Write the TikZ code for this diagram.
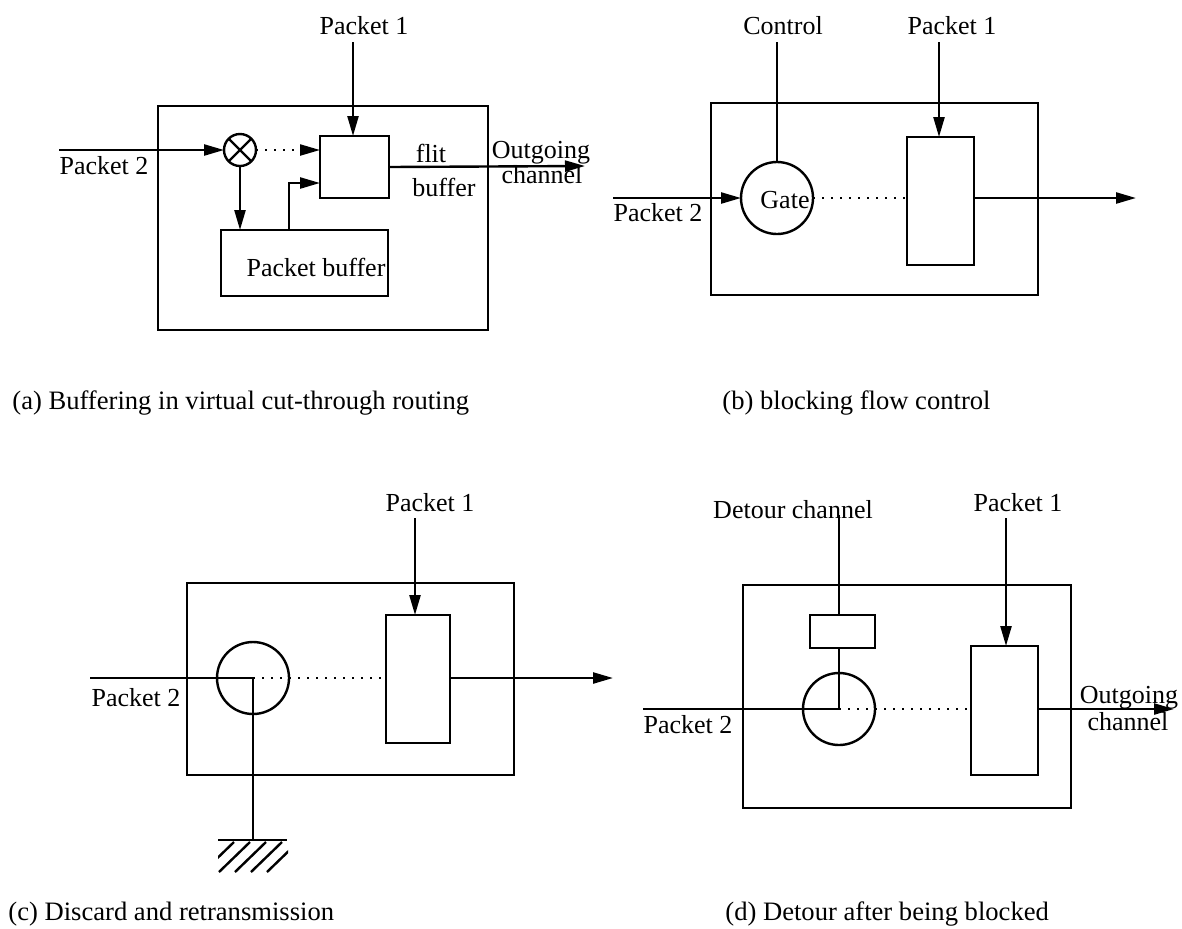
\documentclass[tikz,border=0pt]{standalone}
\usepackage{fontspec}
\setmainfont{Liberation Serif}
\usetikzlibrary{arrows.meta}
\tikzset{>={Triangle[length=10pt,width=5.5pt]},
 every node/.style={font=\fontsize{13}{15}\selectfont},
 frame/.style={draw,line width=1.3pt,inner sep=0pt,outer sep=0pt},
 buf/.style={draw,line width=1.2pt,inner sep=0pt,outer sep=0pt},
 ring/.style={circle,draw,line width=1.2pt,inner sep=0pt,outer sep=0pt,minimum size=36pt},
 arr/.style={->,line width=1.2pt},
 wire/.style={line width=1.2pt},
 thinwire/.style={line width=0.9pt},
 dots/.style={line width=1.1pt,dash pattern=on 1.2pt off 3.3pt},
 lbl/.style={inner sep=0pt},
 captxt/.style={inner sep=0pt,anchor=base west,font=\fontsize{13.3}{15}\selectfont},
}

\begin{document}
\begin{tikzpicture}[x=0.5pt,y=-0.5pt]
 \useasboundingbox (0,0) rectangle (1182,928);
 % (a) virtual cut-through
 \node[frame,minimum width=165pt,minimum height=112pt] (boxA) at (323,218) {};
 \node[buf,minimum width=34.5pt,minimum height=31pt] (flitA) at (354.5,167) {};
 \node[buf,minimum width=83.5pt,minimum height=33pt] (pbufA) at (304.5,263) {};
 \node[circle,draw,line width=1.2pt,inner sep=0pt,outer sep=0pt,minimum size=16pt] (mulA) at (240,150) {};
 \draw[wire] (mulA.north west) -- (mulA.south east) (mulA.north east) -- (mulA.south west);
 \node[lbl] (p1lblA) at (364,26) {Packet 1};
 \node[lbl] (p2lblA) at (104,166) {Packet 2};
 \node[lbl] (pbtxtA) at (316,267) {Packet buffer};
 \node[lbl] (flitlblA) at (431,153) {flit};
 \node[lbl] (buflblA) at (444,187) {buffer};
 \node[lbl] (outlblA) at (541,153) {Outgoing};
 \node[lbl] (chlblA) at (542,175) {channel};
 \coordinate (p1A) at (353,42);
 \coordinate (p2A) at (59,150);
 \coordinate (tapA) at (289,230);
 \coordinate (inA) at (320,183);
 \coordinate (outA) at (585,166);
 \draw[arr] (p1A) -- (p1A |- flitA.north);
 \draw[arr] (p2A) -- (mulA.west);
 \draw[arr,dots] (mulA.east) -- (flitA.west |- mulA);
 \draw[arr] (mulA.south) -- (mulA |- pbufA.north);
 \draw[arr] (tapA) |- (inA);
 \draw[arr] (flitA.east) -- (outA);
 \node[captxt] (capA) at (12,409) {(a) Buffering in virtual cut-through routing};

 % (b) blocking flow control
 \node[frame,minimum width=163.5pt,minimum height=96pt] (boxB) at (874.5,199) {};
 \node[ring] (gateB) at (777,198) {};
 \node[lbl] (gatetxtB) at (785,200) {Gate};
 \node[buf,minimum width=33.5pt,minimum height=64pt] (rectB) at (940.5,201) {};
 \node[lbl] (ctllblB) at (783,26) {Control};
 \node[lbl] (p1lblB) at (952,26) {Packet 1};
 \node[lbl] (p2lblB) at (658,213) {Packet 2};
 \coordinate (ctlB) at (777,42);
 \coordinate (p1B) at (939,42);
 \coordinate (p2B) at (613,198);
 \coordinate (outB) at (1136,198);
 \draw[thinwire] (ctlB) -- (gateB.north);
 \draw[arr] (p1B) -- (p1B |- rectB.north);
 \draw[arr] (p2B) -- (gateB.west);
 \draw[dots] (gateB.east) -- (rectB.west |- gateB);
 \draw[arr] (rectB.east |- gateB) -- (outB);
 \node[captxt] (capB) at (722,409) {(b) blocking flow control};

 % (c) discard and retransmission
 \node[frame,minimum width=163.5pt,minimum height=96pt] (boxC) at (350.5,679) {};
 \node[ring] (circC) at (253,678) {};
 \node[buf,minimum width=32pt,minimum height=64pt] (rectC) at (418,679) {};
 \node[lbl] (p1lblC) at (430,503) {Packet 1};
 \node[lbl] (p2lblC) at (136,698) {Packet 2};
 \coordinate (p1C) at (415,518);
 \coordinate (p2C) at (90,678);
 \coordinate (outC) at (613,678);
 \coordinate (gndC) at (253,840);
 \coordinate (gndL) at (218,840);
 \coordinate (gndR) at (287,840);
 \draw[arr] (p1C) -- (p1C |- rectC.north);
 \draw[wire] (p2C) -- (circC.center) -- (gndC);
 \draw[dots] (circC.center) -- (rectC.west |- circC);
 \draw[arr] (rectC.east |- circC) -- (outC);
 \draw[wire] (gndL) -- (gndR);
 \begin{scope}
  \clip (218,836) rectangle (288,876);
  \foreach \b in {203,219,235,251,267}
   \draw[wire] (\b,872) -- ++(31,-30);
 \end{scope}
 \node[captxt] (capC) at (8,920) {(c) Discard and retransmission};

 % (d) detour after being blocked
 \node[frame,minimum width=164pt,minimum height=111.5pt] (boxD) at (907,696.5) {};
 \node[buf,minimum width=32.5pt,minimum height=16.5pt] (detD) at (842.5,631.5) {};
 \node[ring] (circD) at (839,709) {};
 \node[buf,minimum width=33.5pt,minimum height=64.5pt] (rectD) at (1004.5,710.5) {};
 \node[lbl] (detlblD) at (793,510) {Detour channel};
 \node[lbl] (p1lblD) at (1018,503) {Packet 1};
 \node[lbl] (p2lblD) at (688,725) {Packet 2};
 \node[lbl] (outlblD) at (1129,698) {Outgoing};
 \node[lbl] (chlblD) at (1128,722) {channel};
 \coordinate (detD0) at (839,515);
 \coordinate (p1D) at (1006,518);
 \coordinate (p2D) at (643,709);
 \coordinate (outD) at (1174,709);
 \draw[thinwire] (detD0) -- (detD0 |- detD.north);
 \draw[thinwire] (circD.center |- detD.south) -- (circD.center);
 \draw[wire] (p2D) -- (circD.center);
 \draw[arr] (p1D) -- (p1D |- rectD.north);
 \draw[dots] (circD.center) -- (rectD.west |- circD);
 \draw[arr] (rectD.east |- circD) -- (outD);
 \node[captxt] (capD) at (725,920) {(d) Detour after being blocked};
\end{tikzpicture}
\end{document}
